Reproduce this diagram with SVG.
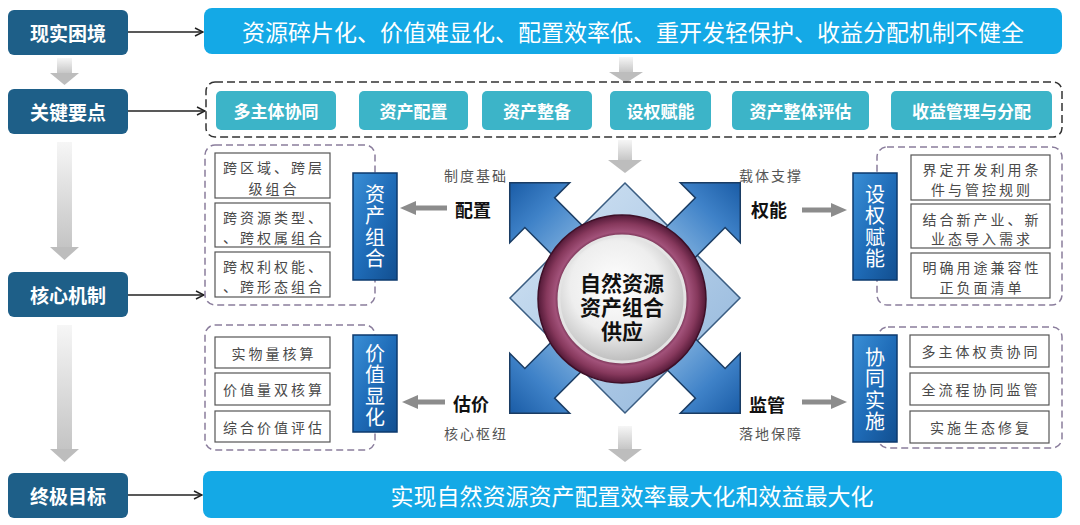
<svg xmlns="http://www.w3.org/2000/svg" width="1080" height="525" viewBox="0 0 1080 525">
<style>
  text { font-family: "Noto Sans CJK SC", "Noto Sans", sans-serif; }
  .lbl { fill: #ffffff; font-size: 19px; font-weight: bold; text-anchor: middle; dominant-baseline: central; }
  .lbox { fill: #1e5f88; }
  .banner { fill: #14a9e6; }
  .btxt { fill: #ffffff; font-size: 23px; text-anchor: middle; dominant-baseline: central; }
  .teal { fill: #3cb4c8; }
  .ttxt { fill: #ffffff; font-size: 17px; font-weight: bold; text-anchor: middle; dominant-baseline: central; }
  .conn { stroke: #222; stroke-width: 1.5; fill: none; marker-end: url(#ah); }
  .pgrp { fill: none; stroke: #8a7d9c; stroke-width: 1.5; stroke-dasharray: 7 4; }
  .wbox { fill: #ffffff; stroke: #555; stroke-width: 1.2; }
  .wtxt { fill: #4a4a4a; font-size: 14px; letter-spacing: 3px; text-anchor: middle; dominant-baseline: central; }
  .vbox { fill: url(#vg); stroke: #0c3a6e; stroke-width: 1.5; }
  .vtxt { fill: #ffffff; font-size: 20px; letter-spacing: 1.5px; writing-mode: vertical-rl; text-anchor: middle; }
  .small { fill: #555; font-size: 14px; letter-spacing: 2px; text-anchor: middle; dominant-baseline: central; }
  .key { fill: #111; font-size: 18px; font-weight: bold; text-anchor: middle; dominant-baseline: central; }
  .harr { fill: #8c8c8c; }
  .vshaft { fill: url(#sg); }
  .vhead { fill: #bdbdbd; }
  .xarr { fill: url(#ag); stroke: #1a3c63; stroke-width: 1.5; stroke-linejoin: miter; }
  .ctxt { font-family: "Liberation Sans", "Noto Sans CJK SC", sans-serif; fill: #111; font-size: 21px; font-weight: bold; text-anchor: middle; }
</style>
<defs>
  <marker id="ah" markerWidth="10" markerHeight="10" refX="9" refY="5" orient="auto" markerUnits="userSpaceOnUse">
    <path d="M1,1 L9,5 L1,9" fill="none" stroke="#222" stroke-width="1.5"/>
  </marker>
  <linearGradient id="vg" x1="0" y1="0" x2="1" y2="1">
    <stop offset="0" stop-color="#3a8fd6"/>
    <stop offset="0.5" stop-color="#1f6cb8"/>
    <stop offset="1" stop-color="#124f90"/>
  </linearGradient>
  <linearGradient id="sg" x1="0" y1="0" x2="0" y2="1">
    <stop offset="0" stop-color="#f6f6f6"/>
    <stop offset="1" stop-color="#c4c4c4"/>
  </linearGradient>
  <linearGradient id="ag" gradientUnits="userSpaceOnUse" x1="55" y1="0" x2="163" y2="0">
    <stop offset="0" stop-color="#8fbbe3"/>
    <stop offset="0.6" stop-color="#3f82c8"/>
    <stop offset="1" stop-color="#1a5ca6"/>
  </linearGradient>
  <linearGradient id="dg" x1="0" y1="0" x2="1" y2="1">
    <stop offset="0" stop-color="#d6e6f5"/>
    <stop offset="1" stop-color="#8fb4da"/>
  </linearGradient>
  <radialGradient id="ring" cx="0.5" cy="0.5" r="0.5">
    <stop offset="0.72" stop-color="#4e1632"/>
    <stop offset="0.8" stop-color="#a2527a"/>
    <stop offset="0.9" stop-color="#86385c"/>
    <stop offset="1" stop-color="#541a38"/>
  </radialGradient>
  <radialGradient id="disk" cx="0.45" cy="0.4" r="0.6">
    <stop offset="0" stop-color="#ffffff"/>
    <stop offset="0.6" stop-color="#eeeeee"/>
    <stop offset="1" stop-color="#bdbdbd"/>
  </radialGradient>
</defs>

<rect width="1080" height="525" fill="#ffffff"/>

<!-- connectors -->
<g id="connectors">
  <line class="conn" x1="128" y1="32" x2="203" y2="32"/>
  <line class="conn" x1="128" y1="111" x2="205" y2="111"/>
  <line class="conn" x1="128" y1="295" x2="204" y2="295"/>
  <line class="conn" x1="128" y1="495" x2="202" y2="495"/>
  <!-- left column gray arrows -->
  <rect class="vshaft" x="57" y="58" width="15" height="16"/>
  <polygon class="vhead" points="50,73 79,73 64.5,85"/>
  <rect class="vshaft" x="57" y="142" width="15" height="106"/>
  <polygon class="vhead" points="50,247 79,247 64.5,260"/>
  <rect class="vshaft" x="57" y="325" width="15" height="125"/>
  <polygon class="vhead" points="50,449 79,449 64.5,462"/>
  <!-- center gray arrows -->
  <rect class="vshaft" x="619" y="57" width="14" height="16"/>
  <polygon class="vhead" points="609,72 643,72 626,83"/>
  <rect class="vshaft" x="618" y="140" width="14" height="21"/>
  <polygon class="vhead" points="608,160 642,160 625,173"/>
  <rect class="vshaft" x="618" y="426" width="14" height="24"/>
  <polygon class="vhead" points="608,449 642,449 625,462"/>
  <!-- horizontal gray arrows -->
  <rect class="harr" x="414" y="205.5" width="33" height="5"/>
  <polygon class="harr" points="400,208 416,201 416,215"/>
  <rect class="harr" x="802" y="207.5" width="31" height="5"/>
  <polygon class="harr" points="847,210 831,203 831,217"/>
  <rect class="harr" x="416" y="399.5" width="29" height="5"/>
  <polygon class="harr" points="402,402 418,395 418,409"/>
  <rect class="harr" x="802" y="399.5" width="31" height="5"/>
  <polygon class="harr" points="847,402 831,395 831,409"/>
</g>

<!-- left column -->
<g id="n-xianshi"><rect class="lbox" x="8" y="10" width="120" height="45" rx="6"/><text class="lbl" x="68" y="32.5">现实困境</text></g>
<g id="n-guanjian"><rect class="lbox" x="8" y="89" width="120" height="45" rx="6"/><text class="lbl" x="68" y="111.5">关键要点</text></g>
<g id="n-hexin"><rect class="lbox" x="8" y="272" width="120" height="45" rx="6"/><text class="lbl" x="68" y="294.5">核心机制</text></g>
<g id="n-zhongji"><rect class="lbox" x="8" y="473" width="120" height="45" rx="6"/><text class="lbl" x="68" y="495.5">终极目标</text></g>

<!-- top banner -->
<g id="n-problem"><rect class="banner" x="204" y="8" width="858" height="46" rx="8"/><text class="btxt" x="633" y="31">资源碎片化、价值难显化、配置效率低、重开发轻保护、收益分配机制不健全</text></g>

<!-- key points -->
<g id="n-keypoints">
  <rect x="206" y="82" width="856" height="55" rx="9" fill="none" stroke="#333" stroke-width="1.5" stroke-dasharray="8 4"/>
  <rect class="teal" x="216" y="91" width="120" height="39" rx="5"/><text class="ttxt" x="276" y="110.5">多主体协同</text>
  <rect class="teal" x="359" y="91" width="109" height="39" rx="5"/><text class="ttxt" x="413.5" y="110.5">资产配置</text>
  <rect class="teal" x="482" y="91" width="110" height="39" rx="5"/><text class="ttxt" x="537" y="110.5">资产整备</text>
  <rect class="teal" x="610" y="91" width="101" height="39" rx="5"/><text class="ttxt" x="660.5" y="110.5">设权赋能</text>
  <rect class="teal" x="732" y="91" width="137" height="39" rx="5"/><text class="ttxt" x="800.5" y="110.5">资产整体评估</text>
  <rect class="teal" x="891" y="91" width="161" height="39" rx="5"/><text class="ttxt" x="971.5" y="110.5">收益管理与分配</text>
</g>

<!-- asset combination (top-left) -->
<g id="n-zichanzuhe">
  <rect class="pgrp" x="205" y="145" width="170" height="160" rx="10"/>
  <rect class="wbox" x="215" y="153" width="115" height="45"/>
  <text class="wtxt" x="274" y="167">跨区域、跨层</text><text class="wtxt" x="274" y="188">级组合</text>
  <rect class="wbox" x="215" y="203" width="115" height="44"/>
  <text class="wtxt" x="274" y="217">跨资源类型、</text><text class="wtxt" x="274" y="237">、跨权属组合</text>
  <rect class="wbox" x="215" y="252" width="115" height="45"/>
  <text class="wtxt" x="274" y="266">跨权利权能、</text><text class="wtxt" x="274" y="286">、跨形态组合</text>
  <rect class="vbox" x="353" y="173" width="44" height="107"/>
  <text class="vtxt" x="375" y="227">资产组合</text>
</g>

<!-- empowerment (top-right) -->
<g id="n-shequan">
  <rect class="pgrp" x="877" y="147" width="185" height="158" rx="10"/>
  <rect class="wbox" x="911" y="155" width="139" height="45"/>
  <text class="wtxt" x="982" y="169">界定开发利用条</text><text class="wtxt" x="982" y="189">件与管控规则</text>
  <rect class="wbox" x="911" y="204" width="139" height="44"/>
  <text class="wtxt" x="982" y="219">结合新产业、新</text><text class="wtxt" x="982" y="238">业态导入需求</text>
  <rect class="wbox" x="911" y="253" width="139" height="45"/>
  <text class="wtxt" x="982" y="267">明确用途兼容性</text><text class="wtxt" x="982" y="287">正负面清单</text>
  <rect class="vbox" x="853" y="173" width="44" height="107"/>
  <text class="vtxt" x="875" y="227">设权赋能</text>
</g>

<!-- value manifestation (bottom-left) -->
<g id="n-jiazhi">
  <rect class="pgrp" x="205" y="325" width="170" height="125" rx="10"/>
  <rect class="wbox" x="215" y="337" width="115" height="31"/><text class="wtxt" x="274" y="352.5">实物量核算</text>
  <rect class="wbox" x="215" y="373" width="115" height="32"/><text class="wtxt" x="274" y="389">价值量双核算</text>
  <rect class="wbox" x="215" y="411" width="115" height="31"/><text class="wtxt" x="274" y="426.5">综合价值评估</text>
  <rect class="vbox" x="353" y="335" width="44" height="97"/>
  <text class="vtxt" x="375" y="386">价值显化</text>
</g>

<!-- coordinated implementation (bottom-right) -->
<g id="n-xietong">
  <rect class="pgrp" x="878" y="327" width="184" height="121" rx="10"/>
  <rect class="wbox" x="910" y="335" width="139" height="32"/><text class="wtxt" x="981" y="351">多主体权责协同</text>
  <rect class="wbox" x="910" y="373" width="139" height="32"/><text class="wtxt" x="981" y="389">全流程协同监管</text>
  <rect class="wbox" x="910" y="411" width="139" height="32"/><text class="wtxt" x="981" y="427">实施生态修复</text>
  <rect class="vbox" x="853" y="335" width="44" height="107"/>
  <text class="vtxt" x="875" y="390">协同实施</text>
</g>

<!-- center labels -->
<g id="n-labels">
  <text class="small" x="476" y="175">制度基础</text>
  <text class="key" x="473" y="209">配置</text>
  <text class="small" x="771" y="175">载体支撑</text>
  <text class="key" x="769" y="209">权能</text>
  <text class="key" x="471" y="403">估价</text>
  <text class="small" x="476" y="433">核心枢纽</text>
  <text class="key" x="767" y="404">监管</text>
  <text class="small" x="771" y="433">落地保障</text>
</g>

<!-- center graphic -->
<g id="n-center">
  <polygon points="625,183 740,298 625,413 510,298" fill="url(#dg)" stroke="#3a5d82" stroke-width="1.5"/>
  <g transform="translate(625,298)">
    <polygon class="xarr" transform="rotate(-135)" points="163,0 120.6,-42.4 120.6,-21 55,-21 55,21 120.6,21 120.6,42.4"/>
    <polygon class="xarr" transform="rotate(-45)" points="163,0 120.6,-42.4 120.6,-21 55,-21 55,21 120.6,21 120.6,42.4"/>
    <polygon class="xarr" transform="rotate(45)" points="163,0 120.6,-42.4 120.6,-21 55,-21 55,21 120.6,21 120.6,42.4"/>
    <polygon class="xarr" transform="rotate(135)" points="163,0 120.6,-42.4 120.6,-21 55,-21 55,21 120.6,21 120.6,42.4"/>
  </g>
  <circle cx="622" cy="299" r="84" fill="url(#ring)" stroke="#3e1028" stroke-width="1.5"/>
  <circle cx="622" cy="299" r="63" fill="url(#disk)" stroke="#e4e4e4" stroke-width="3"/>
  <text class="ctxt" x="622" y="291"><tspan x="622" y="291">自然资源</tspan><tspan x="622" y="315">资产组合</tspan><tspan x="622" y="339">供应</tspan></text>
</g>

<!-- bottom banner -->
<g id="n-goal"><rect class="banner" x="203" y="471" width="859" height="47" rx="8"/><text class="btxt" x="632" y="494.5">实现自然资源资产配置效率最大化和效益最大化</text></g>
</svg>
